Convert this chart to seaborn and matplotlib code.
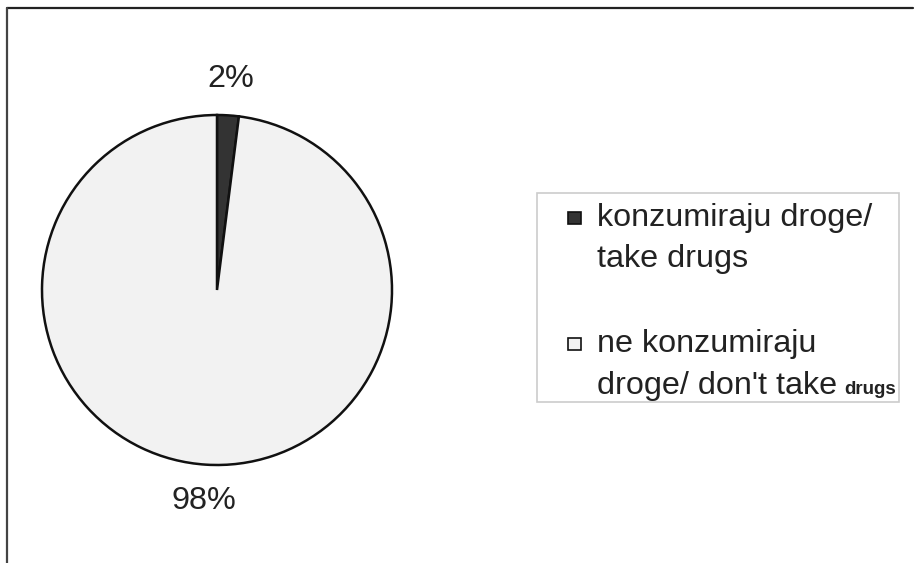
import matplotlib
matplotlib.use("Agg")
import matplotlib.pyplot as plt
import seaborn as sns
from matplotlib.patches import Patch, Rectangle
from matplotlib.legend_handler import HandlerPatch

# data
labels = ["konzumiraju droge/\ntake drugs", "ne konzumiraju\ndroge/ don't take"]
shares = [2, 98]
colors = ["#333333", "#f2f2f2"]

FS = 23.3

sns.set_theme(style="white")
plt.rcParams['font.family'] = ['Liberation Sans', 'DejaVu Sans']

fig = plt.figure(figsize=(9.15, 5.63), dpi=100)

# pie centred at about (217, 290) px, radius ~175 px
ax = fig.add_axes([42 / 915, (563 - 290 - 175) / 563, 350 / 915, 350 / 563])
wedges, texts, autotexts = ax.pie(
    shares, colors=colors, startangle=90, counterclock=False,
    autopct='%.0f%%', pctdistance=1.21,
    wedgeprops=dict(edgecolor='#111111', linewidth=1.8),
    textprops=dict(fontsize=FS, color='#222222'))
ax.set_xlim(-1, 1)
ax.set_ylim(-1, 1)
ax.set_aspect('equal')
for t in autotexts:
    t.set_clip_on(False)


# small square sitting next to the first line of each label
def square_on_first_line(legend, orig_handle, xdescent, ydescent, width, height, fontsize):
    side = 0.38 * fontsize
    return Rectangle((width - side - xdescent, -ydescent + 0.71 * fontsize), side, side)


handles = [Patch(facecolor=c, edgecolor='#111111', linewidth=1.2) for c in colors]
leg = fig.legend(handles, labels,
                 loc='upper left', bbox_to_anchor=(537 / 915, 1 - 193 / 563),
                 fontsize=FS, frameon=False,
                 handlelength=1.05, handleheight=0.42, handletextpad=0.5,
                 labelspacing=1.7, borderpad=0.3, borderaxespad=0,
                 handler_map={Patch: HandlerPatch(patch_func=square_on_first_line)})
for t in leg.get_texts():
    t.set_linespacing(1.5)
    t.set_color('#222222')

# small bold "drugs" tacked on after the second label, like the original
fig.canvas.draw()
r = fig.canvas.get_renderer()
t2 = leg.get_texts()[1]
bb = t2.get_window_extent(r)
tmp = fig.text(0, 0, "droge/ don't take", fontsize=FS)
w = tmp.get_window_extent(r).width
tmp.remove()
extra = fig.text((bb.x0 + w + 7) / fig.bbox.width, (bb.y0 + 7) / fig.bbox.height,
                 "drugs", fontsize=13.5, fontweight='bold', color='#222222',
                 ha='left', va='baseline', zorder=10)

# legend box drawn by hand so it wraps the extra word too
lb = leg.get_window_extent(r)
eb = extra.get_window_extent(r)
W, H = fig.bbox.width, fig.bbox.height
x0, x1 = lb.x0, eb.x1 + 3
y0, y1 = lb.y0 + 8, lb.y1
fig.add_artist(Rectangle((x0 / W, y0 / H), (x1 - x0) / W, (y1 - y0) / H,
                         transform=fig.transFigure, facecolor='none',
                         edgecolor='#cccccc', linewidth=1.2))

# outer frame: only top and left edges show
fig.add_artist(plt.Line2D([7 / 915, 913 / 915], [1 - 8 / 563, 1 - 8 / 563],
                          color='#222222', linewidth=1.6))
fig.add_artist(plt.Line2D([7 / 915, 7 / 915], [0, 1 - 8 / 563],
                          color='#444444', linewidth=1.6))

fig.savefig("out.png", dpi=100)
